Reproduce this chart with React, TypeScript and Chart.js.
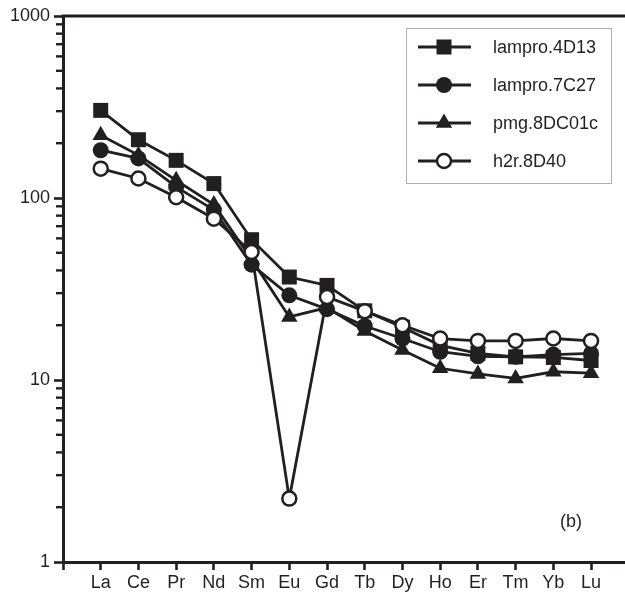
import React, { useEffect, useRef } from 'react';
import { Chart, registerables } from 'chart.js';

Chart.register(...registerables);

const categories = ['La', 'Ce', 'Pr', 'Nd', 'Sm', 'Eu', 'Gd', 'Tb', 'Dy', 'Ho', 'Er', 'Tm', 'Yb', 'Lu'];
const lampro4D13 = [303, 209, 161, 120, 59, 36.8, 33.1, 24, 19.5, 15.5, 14, 13.4, 13.3, 12.8];
const lampro7C27 = [183, 165, 115, 86, 43, 29.2, 24.5, 19.8, 16.9, 14.3, 13.5, 13.4, 13.8, 14.0];
const pmg8DC01c = [221, 172, 125, 92, 46, 22.2, 25, 18.6, 14.6, 11.6, 10.8, 10.2, 11.1, 10.9];
const h2r8D40 = [145, 128, 101, 77, 50.5, 2.23, 28.6, 23.9, 20, 16.9, 16.4, 16.4, 16.9, 16.4];
const yTickLabels = [1, 10, 100, 1000];
const seriesNames = ['lampro.4D13', 'lampro.7C27', 'pmg.8DC01c', 'h2r.8D40'];

const INK = '#231f20';
const FONT = "'Liberation Sans', Arial, sans-serif";

function toPoints(vals: number[]) {
  return vals.map((v, i) => ({ x: i + 1, y: v }));
}

type Marker = 'rect' | 'circleFilled' | 'triangle' | 'circleOpen';
const markers: Marker[] = ['rect', 'circleFilled', 'triangle', 'circleOpen'];

function drawMarker(ctx: CanvasRenderingContext2D, m: Marker, x: number, y: number) {
  ctx.save();
  ctx.fillStyle = INK;
  ctx.strokeStyle = INK;
  ctx.beginPath();
  if (m === 'rect') {
    ctx.rect(x - 7.5, y - 7.5, 15, 15);
    ctx.fill();
  } else if (m === 'circleFilled') {
    ctx.arc(x, y, 8, 0, Math.PI * 2);
    ctx.fill();
  } else if (m === 'triangle') {
    ctx.moveTo(x, y - 9.5);
    ctx.lineTo(x + 8.2, y + 4.75);
    ctx.lineTo(x - 8.2, y + 4.75);
    ctx.closePath();
    ctx.fill();
  } else {
    ctx.arc(x, y, 7, 0, Math.PI * 2);
    ctx.fillStyle = '#ffffff';
    ctx.fill();
    ctx.lineWidth = 2.5;
    ctx.stroke();
  }
  ctx.restore();
}

const overlayPlugin = {
  id: 'overlay',
  afterDraw(chart: any) {
    const ctx: CanvasRenderingContext2D = chart.ctx;
    const { left, top } = chart.chartArea;
    const y = chart.scales.y;
    ctx.save();
    // top frame line
    ctx.strokeStyle = INK;
    ctx.lineWidth = 3;
    ctx.beginPath();
    ctx.moveTo(left - 1.5, top);
    ctx.lineTo(chart.width, top);
    ctx.stroke();
    // minor y ticks
    ctx.lineWidth = 2.4;
    for (let d = 1; d < 1000; d *= 10) {
      for (let k = 2; k <= 9; k++) {
        const py = y.getPixelForValue(d * k);
        ctx.beginPath();
        ctx.moveTo(left - 7, py);
        ctx.lineTo(left, py);
        ctx.stroke();
      }
    }
    // legend
    ctx.lineWidth = 1;
    ctx.strokeStyle = '#b0b0b0';
    ctx.strokeRect(406.5, 28.5, 205, 155);
    ctx.font = `18px ${FONT}`;
    ctx.textBaseline = 'middle';
    ctx.textAlign = 'left';
    for (let i = 0; i < seriesNames.length; i++) {
      const ry = 47 + i * 38;
      ctx.strokeStyle = INK;
      ctx.lineWidth = 2.8;
      ctx.beginPath();
      ctx.moveTo(418, ry);
      ctx.lineTo(471, ry);
      ctx.stroke();
      drawMarker(ctx, markers[i], 444, ry);
      ctx.fillStyle = INK;
      ctx.fillText(seriesNames[i], 493, ry + 1);
    }
    // panel label
    ctx.textAlign = 'center';
    ctx.fillText('(b)', 571, 522);
    ctx.restore();
  },
};

export default function App() {
  const ref = useRef<HTMLCanvasElement | null>(null);
  useEffect(() => {
    if (!ref.current) return;
    const common = {
      borderColor: INK,
      borderWidth: 2.8,
      pointBorderColor: INK,
      tension: 0,
      clip: false,
    };
    const chart = new Chart(ref.current, {
      type: 'line',
      data: {
        datasets: [
          {
            ...common,
            label: seriesNames[0],
            data: toPoints(lampro4D13),
            pointStyle: 'rect',
            pointRadius: 10.6,
            pointBackgroundColor: INK,
            pointBorderWidth: 0,
            order: 3,
          },
          {
            ...common,
            label: seriesNames[1],
            data: toPoints(lampro7C27),
            pointStyle: 'circle',
            pointRadius: 8,
            pointBackgroundColor: INK,
            pointBorderWidth: 0,
            order: 2,
          },
          {
            ...common,
            label: seriesNames[2],
            data: toPoints(pmg8DC01c),
            pointStyle: 'triangle',
            pointRadius: 9.5,
            pointBackgroundColor: INK,
            pointBorderWidth: 0,
            order: 4,
          },
          {
            ...common,
            label: seriesNames[3],
            data: toPoints(h2r8D40),
            pointStyle: 'circle',
            pointRadius: 7,
            pointBackgroundColor: '#ffffff',
            pointBorderWidth: 2.5,
            order: 1,
          },
        ],
      },
      options: {
        animation: false,
        responsive: false,
        devicePixelRatio: 1,
        layout: { autoPadding: false, padding: { top: 16, right: 0, left: 0, bottom: 0 } },
        plugins: { legend: { display: false }, tooltip: { enabled: false } },
        scales: {
          x: {
            type: 'linear',
            min: 0,
            max: 14.9,
            afterFit: (s: any) => {
              s.height = 36;
              s.paddingRight = 0;
              s.paddingLeft = 0;
            },
            afterBuildTicks: (s: any) => {
              s.ticks = Array.from({ length: 15 }, (_, i) => ({ value: i }));
            },
            ticks: {
              autoSkip: false,
              maxRotation: 0,
              padding: 2,
              color: INK,
              font: { family: FONT, size: 18 },
              callback: (v: any) => (v >= 1 && v <= 14 ? categories[v - 1] : ''),
            },
            grid: {
              drawOnChartArea: false,
              drawTicks: true,
              tickLength: 8,
              tickWidth: 2.6,
              tickColor: INK,
            },
            border: { display: true, color: INK, width: 3 },
          },
          y: {
            type: 'logarithmic',
            min: 1,
            max: 1000,
            afterFit: (s: any) => {
              s.width = 63;
              s.paddingTop = 0;
              s.paddingBottom = 0;
            },
            ticks: {
              padding: 4,
              color: INK,
              font: { family: FONT, size: 18 },
              autoSkip: false,
              callback: (v: any) => (yTickLabels.includes(Number(v)) ? String(v) : ''),
            },
            grid: {
              drawOnChartArea: false,
              drawTicks: true,
              tickLength: 9,
              tickWidth: 2.6,
              tickColor: (c: any) => (c.tick && yTickLabels.includes(Number(c.tick.value)) ? INK : 'rgba(0,0,0,0)'),
            },
            border: { display: true, color: INK, width: 3 },
          },
        },
      },
      plugins: [overlayPlugin],
    } as any);
    return () => chart.destroy();
  }, []);
  return (
    <div style={{ position: 'fixed', left: 0, top: 0, width: 625, height: 598, background: '#fff' }}>
      <canvas ref={ref} width={625} height={598} style={{ display: 'block' }} />
    </div>
  );
}
